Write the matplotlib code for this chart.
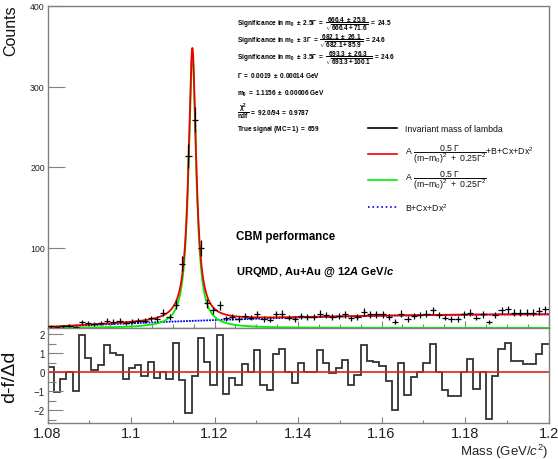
import numpy as np
import matplotlib
matplotlib.use("Agg")
import matplotlib.pyplot as plt
from matplotlib.lines import Line2D

plt.rcParams['font.family'] = ['Liberation Sans', 'DejaVu Sans']
plt.rcParams['mathtext.fontset'] = 'custom'
plt.rcParams['mathtext.rm'] = 'Liberation Sans'
plt.rcParams['mathtext.it'] = 'Liberation Sans:italic'
plt.rcParams['mathtext.bf'] = 'Liberation Sans:bold'
plt.rcParams['mathtext.sf'] = 'Liberation Sans'
try:
    plt.rcParams['mathtext.bfit'] = 'Liberation Sans:italic:bold'
except KeyError:
    pass

# ---------------- data ----------------
x_min, x_max = 1.08, 1.20
bin_width = 0.0015
counts = [2, 1, 2, 3, 1, 7, 6, 5, 6, 9,
          8, 9, 6, 8, 9, 9, 12, 11, 19, 14,
          29, 80, 214, 259, 99, 31, 22, 28, 12, 14,
          11, 15, 13, 17, 11, 10, 17, 18, 13, 11,
          15, 14, 14, 18, 16, 14, 15, 17, 12, 14,
          20, 17, 17, 17, 14, 8, 18, 11, 15, 16,
          18, 22, 16, 13, 11, 11, 17, 19, 13, 17,
          7, 16, 22, 23, 19, 19, 19, 19, 21, 23]
residuals = [0.27, -1.06, -0.35, 0.02, -0.97, 1.97, 0.73, 0.13, 0.36, 1.41,
             1.00, 0.88, -0.36, 0.23, 0.36, -0.18, 0.53, -0.31, 0.03, -0.34,
             1.55, -0.44, -2.13, -0.22, 1.82, 0.53, -0.66, 1.97, -1.16, -0.30,
             -0.70, 0.42, 0.03, 1.15, -0.70, -0.94, 0.94, 1.20, 0.02, -0.55,
             0.50, 0.00, 0.00, 1.15, 0.48, -0.05, 0.20, 0.63, -0.70, -0.14,
             1.42, 0.57, 0.52, 0.31, -0.48, -1.98, 0.48, -1.20, -0.28, 0.00,
             0.47, 1.47, 0.00, -0.93, -1.25, -1.25, 0.00, 0.70, -0.90, 0.00,
             -2.48, -0.22, 1.20, 1.55, 0.56, 0.56, 0.40, 0.40, 0.95, 1.48]

# fit function parameters (as drawn)
peak_height = 339.0
m0 = 1.1147
gamma = 0.0022
bkg_B, bkg_C, bkg_D = 1.0, 265.0, -1100.0   # polynomial in (m - 1.08)

# ---------------- figure ----------------
W, H = 558, 460
fig = plt.figure(figsize=(W / 100, H / 100), dpi=100)

def fx(x):
    return x / W

def fy(y):
    return 1 - y / H

XL, XR = 47.5, 548.5
ax1 = fig.add_axes([fx(XL), fy(329), (XR - XL) / W, (329 - 7) / H])
ax2 = fig.add_axes([fx(XL), fy(424), (XR - XL) / W, (424 - 329) / H])

frame_col = '#808080'
for ax in (ax1, ax2):
    for s in ax.spines.values():
        s.set_color(frame_col)
        s.set_linewidth(1.0)

edges = x_min + bin_width * np.arange(len(counts) + 1)
centers = 0.5 * (edges[:-1] + edges[1:])
cnt = np.array(counts, dtype=float)

mm = np.linspace(x_min, x_max, 4000)
g2 = (gamma / 2) ** 2
sig = peak_height * g2 / ((mm - m0) ** 2 + g2)
u = mm - x_min
bkg = bkg_B + bkg_C * u + bkg_D * u ** 2

ax1.plot(mm, bkg, color='#0000ee', lw=1.3, linestyle=(0, (1, 0.6)), zorder=2)
ax1.plot(mm, sig, color='#00ee00', lw=1.3, zorder=3)
ax1.plot(mm, sig + bkg, color='#ee0000', lw=1.3, zorder=4)
ax1.errorbar(centers, cnt, xerr=bin_width / 2, yerr=np.sqrt(cnt), fmt='none',
             ecolor='black', elinewidth=0.9, capsize=0, zorder=5)

ax1.set_xlim(x_min, x_max)
ax1.set_ylim(0, 400)
ax1.set_yticks([100, 200, 300, 400])
ax1.set_xticks(np.arange(1.08, 1.2001, 0.02))
ax1.set_xticks(np.arange(1.08, 1.2001, 0.005), minor=True)
ax1.tick_params(axis='x', which='major', direction='in', length=5, width=0.8,
                color=frame_col, labelbottom=False)
ax1.tick_params(axis='x', which='minor', direction='in', length=3, width=0.8,
                color=frame_col)
ax1.tick_params(axis='y', which='major', direction='in', length=12, width=0.8,
                color=frame_col, labelsize=6.3, labelcolor='#222222', pad=2)
ax1.set_ylabel('Counts', fontsize=11.5, color='#111111')
ax1.yaxis.set_label_coords(-0.058, 0.925)

# residuals
ax2.stairs(residuals, edges, color='#333333', lw=1.3, baseline=None)
ax2.axhline(0, color='#dd2222', lw=1.2)
ax2.set_xlim(x_min, x_max)
ax2.set_ylim(-2.68, 2.32)
ax2.set_xticks(np.arange(1.08, 1.2001, 0.02))
ax2.set_xticklabels(['1.08', '1.1', '1.12', '1.14', '1.16', '1.18', '1.2'])
ax2.set_xticks(np.arange(1.08, 1.2001, 0.01), minor=True)
ax2.set_yticks([-2, -1, 0, 1, 2])
ax2.set_yticklabels(['\u22122', '\u22121', '0', '1', '2'])
ax2.set_yticks(np.arange(-2.5, 2.01, 0.5), minor=True)
ax2.tick_params(axis='x', which='major', direction='in', length=4, width=0.8,
                color=frame_col, labelsize=10.5, labelcolor='#222222', pad=2)
ax2.tick_params(axis='x', which='minor', direction='in', length=2.5, width=0.8,
                color=frame_col)
ax2.tick_params(axis='y', which='major', direction='in', length=11, width=0.8,
                color=frame_col, labelsize=7, labelcolor='#222222', pad=2)
ax2.tick_params(axis='y', which='minor', direction='in', length=6, width=0.8,
                color=frame_col)
ax2.set_ylabel('d-f/\u0394d', fontsize=14, color='#111111')
ax2.yaxis.set_label_coords(-0.058, 0.5)
fig.text(fx(548), fy(451.5), 'Mass (GeV/$c^{2}$)', ha='right', va='center',
         fontsize=9.5, color='#222222')

# statistics text block
stat_fs = 4.7
stats = [
    (24, r"$\mathbf{Significance\ in\ m_0\ \pm\ 2.5\Gamma\ =\ \dfrac{666.4\ \pm\ 25.8}{\sqrt{666.4+71.6}}\ =\ 24.5}$"),
    (41, r"$\mathbf{Significance\ in\ m_0\ \pm\ 3\Gamma\ =\ \dfrac{682.1\ \pm\ 26.1}{\sqrt{682.1+85.9}}\ =\ 24.6}$"),
    (58, r"$\mathbf{Significance\ in\ m_0\ \pm\ 3.5\Gamma\ =\ \dfrac{693.3\ \pm\ 26.3}{\sqrt{693.3+100.1}}\ =\ 24.6}$"),
    (76, r"$\mathbf{\Gamma\ =\ 0.0019\ \pm\ 0.00014\ GeV}$"),
    (94, r"$\mathbf{m_0\ =\ 1.1156\ \pm\ 0.00006\ GeV}$"),
    (112, r"$\mathbf{\dfrac{\chi^2}{ndf}\ =\ 92.0/94\ =\ 0.9787}$"),
    (130, r"$\mathbf{True\ signal\ (MC=1)\ =\ 659}$"),
]
for yy, txt in stats:
    fig.text(fx(237), fy(yy), txt, fontsize=stat_fs, va='center', ha='left')

# legend (drawn manually)
leg = [
    (129, 'black', '-', 'Invariant mass of lambda'),
    (155, '#ee0000', '-', r"A $\dfrac{0.5\ \Gamma}{(\mathrm{m{-}m_0})^2\ +\ 0.25\Gamma^2}$+B+Cx+Dx$^2$"),
    (181, '#00ee00', '-', r"A $\dfrac{0.5\ \Gamma}{(\mathrm{m{-}m_0})^2\ +\ 0.25\Gamma^2}$"),
    (208, '#0000ee', ':', r"B+Cx+Dx$^2$"),
]
for yy, col, ls, txt in leg:
    fig.add_artist(Line2D([fx(368), fx(397)], [fy(yy), fy(yy)], color=col,
                          lw=1.2, linestyle=ls, transform=fig.transFigure))
    fig.text(fx(405), fy(yy), txt, fontsize=6.3, va='center', ha='left',
             color='#111111')

fig.text(fx(236), fy(237), 'CBM performance', fontsize=8.3, fontweight='bold',
         va='center', ha='left')
fig.text(fx(236), fy(272), r"URQMD, Au+Au @ 12$\mathbfit{A}$ GeV/$\mathbfit{c}$",
         fontsize=8.0, fontweight='bold', va='center', ha='left')

fig.savefig('out.png', dpi=100)
